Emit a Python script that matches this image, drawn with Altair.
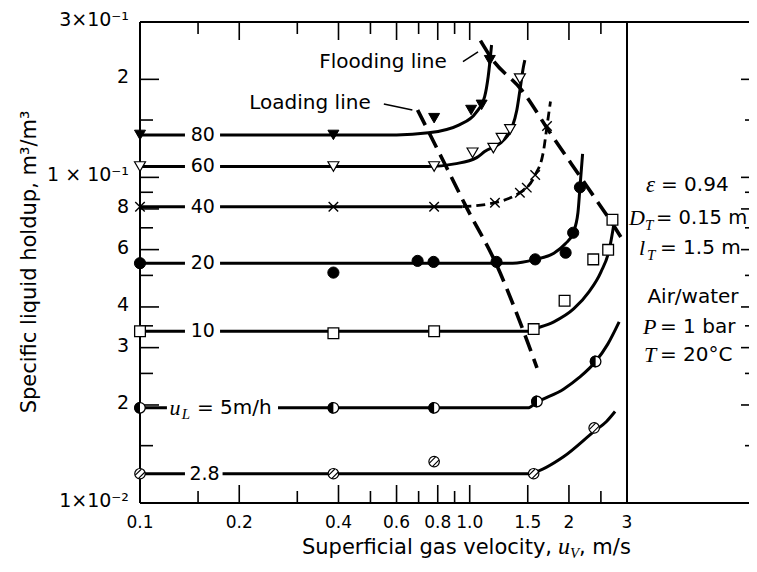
import altair as alt
import pandas as pd

W, H = 487, 481

# ---------------- data (u_V [m/s], specific liquid holdup [m3/m3]) ----------------
# u_L = 80 m/h  (filled down-triangles)
m80_x = [0.1, 0.386, 0.78, 1.01, 1.087, 1.151]
m80_y = [0.135, 0.135, 0.152, 0.161, 0.167, 0.229]
c80_x = [0.1, 0.6, 0.75, 0.93, 1.045, 1.11, 1.138, 1.165]
c80_y = [0.135, 0.135, 0.137, 0.145, 0.158, 0.177, 0.204, 0.255]
# u_L = 60 m/h  (open down-triangles)
m60_x = [0.1, 0.386, 0.78, 1.02, 1.18, 1.25, 1.326, 1.42]
m60_y = [0.108, 0.108, 0.108, 0.119, 0.123, 0.132, 0.1405, 0.201]
c60_x = [0.1, 0.75, 0.9, 1.05, 1.11, 1.265, 1.341, 1.39, 1.42, 1.456, 1.47]
c60_y = [0.108, 0.108, 0.11, 0.115, 0.12, 0.13, 0.1414, 0.161, 0.185, 0.219, 0.229]
# u_L = 40 m/h  (crosses)
m40_x = [0.1, 0.386, 0.78, 1.193, 1.42, 1.49, 1.58, 1.716]
m40_y = [0.0813, 0.0813, 0.0813, 0.0836, 0.0897, 0.093, 0.1017, 0.1438]
c40_x = [0.1, 0.95]
c40_y = [0.0813, 0.0813]
d40_x = [0.95, 1.193, 1.42, 1.49, 1.58, 1.676, 1.716, 1.758]
d40_y = [0.0813, 0.0836, 0.0897, 0.093, 0.1017, 0.1212, 0.1438, 0.171]
# u_L = 20 m/h  (filled circles)
m20_x = [0.1, 0.386, 0.695, 0.777, 1.206, 1.58, 1.954, 2.06, 2.16]
m20_y = [0.0545, 0.051, 0.0554, 0.055, 0.055, 0.056, 0.0587, 0.0676, 0.0932]
c20_x = [0.1, 1.35, 1.58, 1.8, 1.95, 2.06, 2.13, 2.16, 2.2]
c20_y = [0.0545, 0.0545, 0.056, 0.0585, 0.0625, 0.0676, 0.078, 0.0932, 0.118]
# u_L = 10 m/h  (open squares)
m10_x = [0.1, 0.386, 0.78, 1.563, 1.94, 2.37, 2.63, 2.71]
m10_y = [0.0337, 0.0332, 0.0337, 0.0342, 0.0418, 0.056, 0.0599, 0.0741]
c10_x = [0.1, 1.5, 1.563, 1.8, 2.07, 2.3, 2.5, 2.65, 2.745]
c10_y = [0.0337, 0.0337, 0.0342, 0.036, 0.0395, 0.0445, 0.0512, 0.0599, 0.0731]
# u_L = 5 m/h  (half-filled circles)
m5_x = [0.1, 0.386, 0.78, 1.6, 2.41]
m5_y = [0.0196, 0.0196, 0.0196, 0.0205, 0.0272]
c5_x = [0.1, 1.5, 1.6, 1.93, 2.15, 2.41, 2.62, 2.84]
c5_y = [0.0196, 0.0196, 0.0204, 0.0224, 0.0243, 0.0272, 0.0307, 0.036]
# u_L = 2.8 m/h  (hatched circles)
m28_x = [0.1, 0.386, 0.78, 1.563, 2.385]
m28_y = [0.0123, 0.0123, 0.0134, 0.0123, 0.017]
c28_x = [0.1, 1.5, 1.563, 1.93, 2.385, 2.6, 2.76]
c28_y = [0.0123, 0.0123, 0.0124, 0.0139, 0.0166, 0.0178, 0.0191]

# loading and flooding lines
load_x = [0.695, 0.848, 0.977, 1.2, 1.456, 1.6]
load_y = [0.161, 0.108, 0.081, 0.0545, 0.0337, 0.026]
flood_x = [1.078, 1.165, 1.44, 1.758, 2.25, 2.745, 2.91]
flood_y = [0.263, 0.232, 0.185, 0.1365, 0.0949, 0.0706, 0.0643]

# curve labels
lab_text = ["80", "60", "40", "20", "10", "2.8"]
lab_x = [0.155, 0.155, 0.155, 0.155, 0.155, 0.157]
lab_y = [0.135, 0.108, 0.0813, 0.0545, 0.0337, 0.0123]
# gaps left in the curves around their labels
gap_x1 = [0.1369, 0.1369, 0.1369, 0.1369, 0.1369, 0.1369, 0.1207]
gap_x2 = [0.1749, 0.1749, 0.1749, 0.1749, 0.1749, 0.178, 0.2622]
gap_y = [0.135, 0.108, 0.0813, 0.0545, 0.0337, 0.0123, 0.0196]

# axes ticks
x_major = [0.1, 0.2, 0.4, 0.6, 0.8, 1.0, 1.5, 2, 3]
x_major_lab = ["0.1", "0.2", "0.4", "0.6", "0.8", "1.0", "1.5", "2", "3"]
x_minor = [0.15, 0.3, 0.5, 0.7, 0.9, 2.5]
y_major = [0.3, 0.2, 0.1, 0.08, 0.06, 0.04, 0.03, 0.02, 0.01]
y_major_lab = ["3×10⁻¹", "2", "1 × 10⁻¹", "8", "6", "4", "3", "2", "1×10⁻²"]
y_minor = [0.15, 0.09, 0.07, 0.05, 0.035, 0.025, 0.015]

# annotation leader lines (data coords)
lead_x1 = [0.954, 0.549]
lead_y1 = [0.2266, 0.168]
lead_x2 = [1.06, 0.67]
lead_y2 = [0.243, 0.161]

# ---------------- helpers ----------------
XS = alt.Scale(type="log", domain=[0.1, 3], nice=False)
YS = alt.Scale(type="log", domain=[0.01, 0.3], nice=False)
SANS = "DejaVu Sans"
SERIF = "Liberation Serif"
PAD_R = 122
RIGHT = W + PAD_R  # right edge of the drawing


def X(f="x"):
    return alt.X(f"{f}:Q", scale=XS, axis=None)


def Y(f="y"):
    return alt.Y(f"{f}:Q", scale=YS, axis=None)


def df(xs, ys):
    return pd.DataFrame({"x": xs, "y": ys})


layers = []

# frame
frame = dict(color="black", strokeWidth=2)
layers.append(alt.Chart().mark_rule(**frame).encode(x=alt.value(0), x2=alt.value(RIGHT), y=alt.value(0)))
layers.append(alt.Chart().mark_rule(**frame).encode(x=alt.value(0), x2=alt.value(RIGHT), y=alt.value(H)))
layers.append(alt.Chart().mark_rule(**frame).encode(x=alt.value(0), y=alt.value(0), y2=alt.value(H)))
layers.append(alt.Chart().mark_rule(**frame).encode(x=alt.value(W), y=alt.value(0), y2=alt.value(H)))

# ticks (inside) and tick labels
tk = dict(color="black", strokeWidth=1.6)
xmaj = pd.DataFrame({"v": x_major, "t": x_major_lab})
xmin = pd.DataFrame({"v": x_minor})
ymaj = pd.DataFrame({"v": y_major, "t": y_major_lab})
ymin = pd.DataFrame({"v": y_minor})
layers.append(alt.Chart(xmaj).mark_rule(**tk).encode(x=X("v"), y=alt.value(H), y2=alt.value(H - 18)))
layers.append(alt.Chart(xmin).mark_rule(**tk).encode(x=X("v"), y=alt.value(H), y2=alt.value(H - 12)))
layers.append(alt.Chart(xmaj).mark_rule(**tk).encode(x=X("v"), y=alt.value(0), y2=alt.value(18)))
layers.append(alt.Chart(xmin).mark_rule(**tk).encode(x=X("v"), y=alt.value(0), y2=alt.value(12)))
layers.append(alt.Chart(ymaj).mark_rule(**tk).encode(y=Y("v"), x=alt.value(0), x2=alt.value(19)))
layers.append(alt.Chart(ymin).mark_rule(**tk).encode(y=Y("v"), x=alt.value(0), x2=alt.value(13)))
layers.append(alt.Chart(ymaj).mark_rule(**tk).encode(y=Y("v"), x=alt.value(RIGHT), x2=alt.value(RIGHT - 8)))
layers.append(alt.Chart(ymin).mark_rule(**tk).encode(y=Y("v"), x=alt.value(RIGHT), x2=alt.value(RIGHT - 4)))
layers.append(alt.Chart(xmaj).mark_text(font=SANS, fontSize=17, align="center", baseline="middle", color="black")
              .encode(x=X("v"), y=alt.value(H + 20), text="t:N"))
layers.append(alt.Chart(ymaj).mark_text(font=SANS, fontSize=19, align="right", baseline="middle", color="black",
                                        dy=-2)
              .encode(y=Y("v"), x=alt.value(-11), text="t:N"))

# curves
line = dict(color="black", strokeWidth=3, interpolate="monotone")
for cx, cy in [(c80_x, c80_y), (c60_x, c60_y), (c40_x, c40_y), (c20_x, c20_y),
               (c10_x, c10_y), (c5_x, c5_y), (c28_x, c28_y)]:
    layers.append(alt.Chart(df(cx, cy)).mark_line(**line).encode(x=X(), y=Y()))
layers.append(alt.Chart(df(d40_x, d40_y)).mark_line(color="black", strokeWidth=2.8, interpolate="monotone",
                                                     strokeDash=[9, 5]).encode(x=X(), y=Y()))
dash = dict(color="black", strokeWidth=3.6, interpolate="monotone", strokeDash=[17, 8])
layers.append(alt.Chart(df(load_x, load_y)).mark_line(**dash).encode(x=X(), y=Y()))
layers.append(alt.Chart(df(flood_x, flood_y)).mark_line(**dash).encode(x=X(), y=Y()))

# white gaps in the curves behind the labels
layers.append(alt.Chart(pd.DataFrame({"x": gap_x1, "x2": gap_x2, "y": gap_y}))
              .mark_rule(color="white", strokeWidth=8)
              .encode(x=X(), x2="x2:Q", y=Y()))

# leader lines
layers.append(alt.Chart(pd.DataFrame({"x": lead_x1, "y": lead_y1, "x2": lead_x2, "y2": lead_y2}))
              .mark_rule(color="black", strokeWidth=1.5)
              .encode(x=X(), y=Y(), x2="x2:Q", y2="y2:Q"))

# curve labels
labdf = pd.DataFrame({"x": lab_x, "y": lab_y, "t": lab_text})
layers.append(alt.Chart(labdf).mark_text(color="black", font=SANS, fontSize=19, baseline="middle", align="center")
              .encode(x=X(), y=Y(), text="t:N"))
ul_parts = [
    (0.1277, 0.0196, "u", SERIF, "italic", 22, "center", 0),
    (0.1379, 0.0196, "L", SERIF, "italic", 15, "center", 6),
    (0.1489, 0.0196, "= 5m/h", SANS, "normal", 20, "left", 0),
]
for (px, py, t, fnt, sty, fs, al, dy) in ul_parts:
    d = pd.DataFrame({"x": [px], "y": [py], "t": [t]})
    layers.append(alt.Chart(d).mark_text(color="black", font=fnt, fontStyle=sty, fontSize=fs, align=al,
                                         baseline="middle", dy=dy)
                  .encode(x=X(), y=Y(), text="t:N"))


# markers
def pts(xs, ys, shape, size, fill, sw=1.3):
    return alt.Chart(df(xs, ys)).mark_point(shape=shape, size=size, filled=True, fill=fill, stroke="black",
                                            strokeWidth=sw, opacity=1, fillOpacity=1, strokeOpacity=1
                                            ).encode(x=X(), y=Y())


layers.append(pts(m80_x, m80_y, "triangle-down", 120, "black", 1))
layers.append(pts(m60_x, m60_y, "triangle-down", 120, "white", 1.2))
layers.append(alt.Chart(df(m40_x, m40_y)).mark_point(shape="M-1,-1L1,1M-1,1L1,-1", size=90, filled=False,
                                                     stroke="black", strokeWidth=1.4, opacity=1)
              .encode(x=X(), y=Y()))
layers.append(pts(m20_x, m20_y, "circle", 125, "black", 1))
layers.append(pts(m10_x, m10_y, "square", 115, "white", 1.3))
layers.append(pts(m5_x, m5_y, "circle", 110, "white", 1.3))
layers.append(alt.Chart(df(m5_x, m5_y)).mark_point(shape="M0,-1A1,1,0,0,0,0,1Z", size=140, filled=True,
                                                   fill="black", strokeWidth=0, opacity=1, fillOpacity=1)
              .encode(x=X(), y=Y()))
layers.append(pts(m28_x, m28_y, "circle", 110, "white", 1.2))
layers.append(alt.Chart(df(m28_x, m28_y)).mark_point(shape="M-0.8,0.25L0.25,-0.8M-0.25,0.8L0.8,-0.25", size=140,
                                                     filled=False, stroke="black", strokeWidth=1.1, opacity=1)
              .encode(x=X(), y=Y()))


# text annotations in pixel coordinates (relative to plot area)
def txt(t, x, y, size=20, font=SANS, style="normal", align="left", angle=0, baseline="middle"):
    return alt.Chart().mark_text(text=t, font=font, fontSize=size, fontStyle=style, align=align,
                                 baseline=baseline, angle=angle, color="black").encode(
        x=alt.value(x), y=alt.value(y))


layers.append(txt("Flooding line", 243, 40, size=20, align="center"))
layers.append(txt("Loading line", 170, 81, size=20, align="center"))

# right panel
layers.append(txt("ε", 506, 163, size=23, font=SERIF, style="italic"))
layers.append(txt("= 0.94", 521, 163, size=20))
layers.append(txt("D", 489, 196, size=22, font=SERIF, style="italic"))
layers.append(txt("T", 505, 203, size=15, font=SERIF, style="italic"))
layers.append(txt("= 0.15 m", 516, 196, size=19.5))
layers.append(txt("l", 499, 226, size=22, font=SERIF, style="italic"))
layers.append(txt("T", 507, 233, size=15, font=SERIF, style="italic"))
layers.append(txt("= 1.5 m", 520, 226, size=20))
layers.append(txt("Air/water", 553, 275, size=20, align="center"))
layers.append(txt("P", 503, 305, size=22, font=SERIF, style="italic"))
layers.append(txt("= 1 bar", 520, 305, size=20))
layers.append(txt("T", 504, 333, size=22, font=SERIF, style="italic"))
layers.append(txt("= 20°C", 520, 333, size=20))

# axis titles
layers.append(txt("Specific liquid holdup, m³/m³", -110, 240, size=21, align="center", angle=270))
layers.append(txt("Superficial gas velocity,", 412, 532, size=21, align="right", baseline="alphabetic"))
layers.append(txt("u", 418, 532, size=24, font=SERIF, style="italic", baseline="alphabetic"))
layers.append(txt("V", 430, 536, size=15, font=SERIF, style="italic", baseline="alphabetic"))
layers.append(txt(", m/s", 439, 532, size=21, baseline="alphabetic"))

chart = alt.layer(*layers).properties(
    width=W, height=H,
    autosize=alt.AutoSizeParams(type="none"),
    padding={"left": 132, "top": 14, "right": PAD_R, "bottom": 57},
    background="white",
).configure_view(stroke=None)

chart.save("out.html", embed_options={"renderer": "svg", "actions": False})
